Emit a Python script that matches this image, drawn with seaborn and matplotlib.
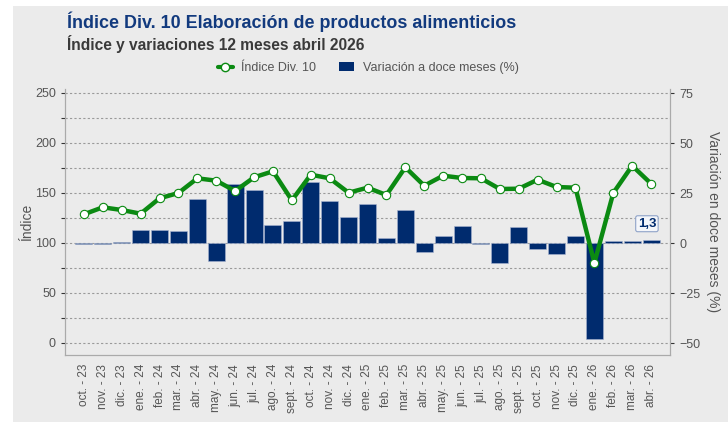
import matplotlib
matplotlib.use("Agg")
import matplotlib.pyplot as plt
from matplotlib.patches import Rectangle
from matplotlib.lines import Line2D
from matplotlib.ticker import MultipleLocator
import numpy as np
import pandas as pd
import seaborn as sns

# datos
meses = ["oct. - 23", "nov. - 23", "dic. - 23", "ene. - 24", "feb. - 24", "mar. - 24", "abr. - 24",
         "may. - 24", "jun. - 24", "jul. - 24", "ago. - 24", "sept. - 24", "oct. - 24", "nov. - 24",
         "dic. - 24", "ene. - 25", "feb. - 25", "mar. - 25", "abr. - 25", "may. - 25", "jun. - 25",
         "jul. - 25", "ago. - 25", "sept. - 25", "oct. - 25", "nov. - 25", "dic. - 25", "ene. - 26",
         "feb. - 26", "mar. - 26", "abr. - 26"]
indice = [128.7, 135.7, 133.0, 129.3, 144.7, 150.0, 164.7, 162.3, 152.0, 165.7, 171.7, 142.7,
          168.3, 164.7, 150.3, 155.3, 148.0, 175.7, 157.3, 167.3, 165.0, 164.7, 154.0, 154.3,
          163.3, 156.0, 155.3, 80.0, 150.0, 177.3, 159.3]
variacion = [-0.3, -0.7, 0.5, 6.6, 6.7, 6.1, 21.8, -9.0, 29.7, 26.6, 8.9, 11.2, 30.4, 21.2,
             13.1, 19.5, 2.3, 16.6, -4.4, 3.3, 8.4, -0.7, -10.2, 8.2, -3.1, -5.3, 3.3, -47.9,
             1.2, 0.8, 1.3]

df = pd.DataFrame({"mes": meses, "indice": indice, "variacion": variacion})
df["pos"] = np.arange(len(df))

verde = "#0B8A12"
azul = "#002B6E"
gris = "#555555"
fondo = "#EBEBEB"

sns.set_style("white")
plt.rcParams["font.family"] = ["Liberation Sans", "DejaVu Sans"]

fig = plt.figure(figsize=(7.28, 4.22), dpi=100)
fig.patch.set_facecolor("white")
fig.patches.append(Rectangle((13 / 728, 0), 1, 1 - 6 / 422, transform=fig.transFigure,
                             facecolor=fondo, edgecolor="none", zorder=-10))

ax = fig.add_axes([65 / 728, 1 - 355 / 422, (670 - 65) / 728, (355 - 89) / 422])
ax.patch.set_visible(False)

# barras (variacion, eje derecho)
sns.barplot(data=df, x="mes", y="variacion", color=azul, saturation=1, width=0.9,
            edgecolor="#A9B5D0", linewidth=0.4, ax=ax, zorder=2)
lo, hi = -12, 254
ax.set_ylim((lo - 100) / 2, (hi - 100) / 2)
ax.set_xlim(-1, len(meses))
ax.set_xlabel("")

# linea (indice, eje izquierdo)
ax2 = ax.twinx()
sns.lineplot(data=df, x="pos", y="indice", color=verde, linewidth=3.2, marker="o",
             markersize=6, markerfacecolor="white", markeredgecolor=verde, markeredgewidth=0.8,
             ax=ax2, zorder=5)
ax2.set_ylim(lo, hi)
ax2.set_xlim(-1, len(meses))
ax2.set_xlabel("")

# lados de los ejes (despues de twinx)
ax.yaxis.tick_right()
ax.yaxis.set_label_position("right")
ax.yaxis.set_major_locator(MultipleLocator(25))
ax.yaxis.set_minor_locator(MultipleLocator(12.5))
ax.grid(which="both", axis="y", color="#9A9A9A", linestyle=(0, (2, 2)), linewidth=0.8)
ax.set_axisbelow(True)
ax.set_ylabel("Variación en doce meses (%)", rotation=-90, labelpad=14, color=gris, fontsize=10)

ax2.yaxis.tick_left()
ax2.yaxis.set_label_position("left")
ax2.yaxis.set_major_locator(MultipleLocator(50))
ax2.yaxis.set_minor_locator(MultipleLocator(25))
ax2.set_ylabel("Índice", color=gris, fontsize=10, labelpad=1)

for a in (ax, ax2):
    for s in a.spines.values():
        s.set_color("#AAAAAA")
        s.set_linewidth(0.8)
    a.spines["top"].set_visible(False)

ax.set_xticks(df["pos"])
ax.set_xticklabels(meses, rotation=90, fontsize=8.5, color=gris)
ax.tick_params(axis="x", direction="out", length=3, width=0.8, color="#333333")
ax.tick_params(axis="y", which="major", direction="out", length=3, width=0.8, color="#333333",
               labelsize=9, labelcolor=gris, right=True, left=False, labelright=True, labelleft=False)
ax.tick_params(axis="y", which="minor", length=0, right=False, left=False)
ax2.tick_params(axis="y", which="both", direction="out", length=3, width=0.8, color="#333333",
                labelsize=9, labelcolor=gris, left=True, right=False, labelleft=True, labelright=False)

# etiqueta del ultimo valor
ax.annotate("1,3", xy=(df["pos"].iloc[-1], variacion[-1]), xytext=(-3, 12),
            textcoords="offset points", ha="center", va="center", fontsize=9.5,
            fontweight="bold", color=azul,
            bbox=dict(boxstyle="round,pad=0.15", facecolor="#F4F6FA", edgecolor="#8FA3C8",
                      linewidth=0.8), zorder=10)

# leyenda
handles = [Line2D([0], [0], color=verde, linewidth=3, marker="o", markersize=6,
                  markerfacecolor="white", markeredgecolor=verde),
           Rectangle((0, 0), 1, 1, facecolor=azul, edgecolor="none")]
fig.legend(handles, ["Índice Div. 10", "Variación a doce meses (%)"], loc="center",
           bbox_to_anchor=(368 / 728, 1 - 68 / 422), ncol=2, frameon=False, fontsize=9,
           labelcolor=gris, handlelength=1.2, handletextpad=0.7, columnspacing=1.8)

fig.text(67 / 728, 1 - 22 / 422, "Índice Div. 10 Elaboración de productos alimenticios",
         fontsize=12.9, fontweight="bold", color="#123A7E", va="center")
fig.text(67 / 728, 1 - 44 / 422, "Índice y variaciones 12 meses abril 2026",
         fontsize=11.2, fontweight="bold", color="#3A3A3A", va="center")

fig.savefig("out.png", dpi=100)
